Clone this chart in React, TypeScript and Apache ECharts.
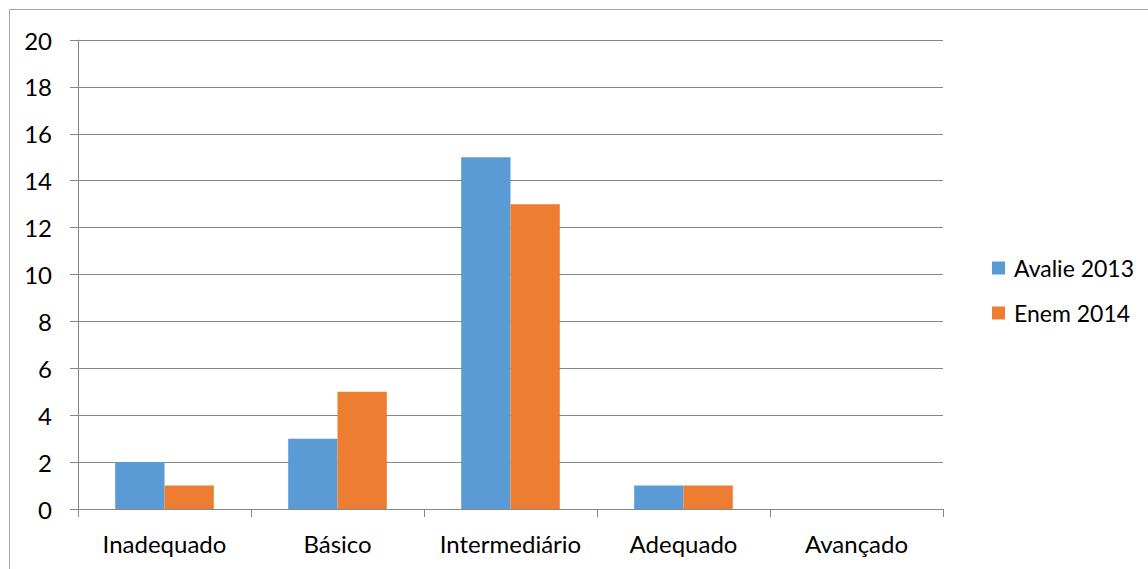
import React, { useEffect, useRef } from "react";
import * as echarts from "echarts";

const categories = ["Inadequado", "Básico", "Intermediário", "Adequado", "Avançado"];
const avalie2013 = [2, 3, 15, 1, 0];
const enem2014 = [1, 5, 13, 1, 0];
const seriesNames = ["Avalie 2013", "Enem 2014"];

const FONT = "Lato, 'Open Sans', sans-serif";
const FS = 24;

export default function App() {
  const ref = useRef<HTMLDivElement>(null);
  useEffect(() => {
    document.body.style.margin = "0";
    const chart = echarts.init(ref.current!, null, { renderer: "svg" });
    const gray = "#878787";
    chart.setOption({
      animation: false,
      backgroundColor: "#ffffff",
      textStyle: { fontFamily: FONT },
      graphic: [
        {
          type: "rect",
          shape: { x: 9.5, y: 9.5, width: 1200, height: 600 },
          style: { fill: "none", stroke: "#a6a6a6", lineWidth: 1 },
          silent: true,
        },
      ],
      legend: {
        orient: "vertical",
        left: 987,
        top: 251,
        itemWidth: 13,
        itemHeight: 13,
        itemGap: 21,
        icon: "rect",
        textStyle: { fontSize: 23, lineHeight: 24, color: "#000", fontFamily: FONT, padding: [0, 0, 0, 4] },
        data: seriesNames,
      },
      grid: { left: 78, top: 40, right: 205, bottom: 60, containLabel: false },
      xAxis: {
        type: "category",
        data: categories,
        axisLine: { show: true, lineStyle: { color: gray, width: 1 } },
        axisTick: { show: true, length: 8, lineStyle: { color: gray }, alignWithLabel: false },
        axisLabel: { fontSize: FS, color: "#000", margin: 22, interval: 0, fontFamily: FONT },
        splitLine: { show: false },
      },
      yAxis: {
        type: "value",
        min: 0,
        max: 20,
        interval: 2,
        axisLine: { show: true, lineStyle: { color: gray, width: 1 } },
        axisTick: { show: true, length: 8, lineStyle: { color: gray } },
        axisLabel: { fontSize: FS, color: "#000", margin: 26, fontFamily: FONT },
        splitLine: { show: true, lineStyle: { color: gray, width: 1 } },
      },
      series: [
        {
          name: seriesNames[0],
          type: "bar",
          data: avalie2013,
          itemStyle: { color: "#5B9BD5" },
          barGap: "0%",
          barCategoryGap: "43%",
        },
        {
          name: seriesNames[1],
          type: "bar",
          data: enem2014,
          itemStyle: { color: "#ED7D31" },
          barGap: "0%",
          barCategoryGap: "43%",
        },
      ],
    });
    return () => chart.dispose();
  }, []);
  return <div ref={ref} style={{ position: "absolute", left: 0, top: 0, width: 1148, height: 569 }} />;
}
